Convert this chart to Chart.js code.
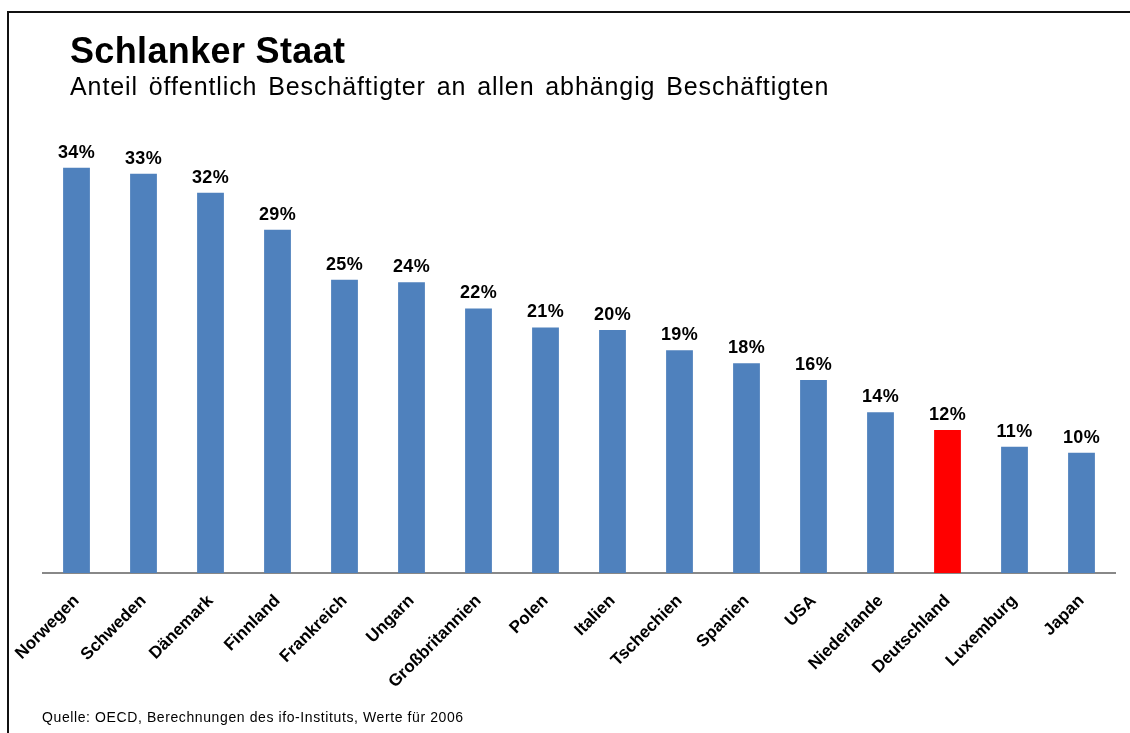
<!DOCTYPE html>
<html lang="de">
<head>
<meta charset="utf-8">
<script src="https://cdn.jsdelivr.net/npm/chart.js@4"></script>
<style>
  body { margin: 0; background: #fff; font-family: "Liberation Sans", Arial, sans-serif; }
  #wrap { position: relative; width: 1130px; height: 733px; overflow: hidden; }
  #frame { position: absolute; left: 7px; top: 11px; right: 0; bottom: 0; border-top: 2px solid #111; border-left: 2px solid #111; }
  #title { position: absolute; left: 70px; top: 30px; font-size: 36px; font-weight: bold; letter-spacing: 0.35px; color: #000; }
  #subtitle { position: absolute; left: 70px; top: 72px; font-size: 25px; letter-spacing: 0.9px; word-spacing: 3px; color: #000; }
  #source { position: absolute; left: 42px; top: 709px; font-size: 14px; letter-spacing: 0.6px; color: #000; }
  canvas { position: absolute; left: 0; top: 0; }
</style>
</head>
<body>
<div id="wrap">
  <div id="frame"></div>
  <canvas id="chart" width="1130" height="733"></canvas>
  <div id="title">Schlanker Staat</div>
  <div id="subtitle">Anteil öffentlich Beschäftigter an allen abhängig Beschäftigten</div>
  <div id="source">Quelle: OECD, Berechnungen des ifo-Instituts, Werte für 2006</div>
</div>
<script>
// --- DATEN ---
const laender = ["Norwegen", "Schweden", "Dänemark", "Finnland", "Frankreich", "Ungarn", "Großbritannien", "Polen",
  "Italien", "Tschechien", "Spanien", "USA", "Niederlande", "Deutschland", "Luxemburg", "Japan"];
const anteile = [34.0, 33.5, 31.9, 28.8, 24.6, 24.4, 22.2, 20.6, 20.4, 18.7, 17.6, 16.2, 13.5, 12.0, 10.6, 10.1];
const anteilLabels = ["34%", "33%", "32%", "29%", "25%", "24%", "22%", "21%", "20%", "19%", "18%", "16%", "14%", "12%", "11%", "10%"];
const markiert = "Deutschland";

const farben = laender.map(l => l === markiert ? "#FF0000" : "#4F81BD");

// Werte über die Balken schreiben
const wertLabels = {
  id: "wertLabels",
  afterDatasetsDraw(chart) {
    const ctx = chart.ctx;
    const meta = chart.getDatasetMeta(0);
    ctx.save();
    ctx.font = "bold 18px 'Liberation Sans', Arial, sans-serif";
    ctx.letterSpacing = "0.3px";
    ctx.fillStyle = "#000";
    ctx.textAlign = "center";
    ctx.textBaseline = "bottom";
    meta.data.forEach((bar, i) => {
      ctx.fillText(anteilLabels[i], bar.x, bar.y - 6);
    });
    ctx.restore();
  }
};

new Chart(document.getElementById("chart").getContext("2d"), {
  type: "bar",
  data: {
    labels: laender,
    datasets: [{
      data: anteile,
      backgroundColor: farben,
      borderWidth: 0,
      barPercentage: 0.4,
      categoryPercentage: 1.0
    }]
  },
  options: {
    responsive: false,
    animation: false,
    layout: { padding: { left: 43, right: 15, top: 144, bottom: 40 } },
    plugins: { legend: { display: false }, tooltip: { enabled: false } },
    scales: {
      y: { display: false, min: 0, max: 36 },
      x: {
        grid: { display: false },
        border: { display: true, color: "#888", width: 2 },
        ticks: {
          color: "#000",
          font: { family: "'Liberation Sans', Arial, sans-serif", size: 17, weight: "bold" },
          minRotation: 45,
          maxRotation: 45,
          padding: 10,
          autoSkip: false
        },
        afterFit(scale) { scale.height = 120; }
      }
    }
  },
  plugins: [wertLabels]
});
</script>
</body>
</html>
